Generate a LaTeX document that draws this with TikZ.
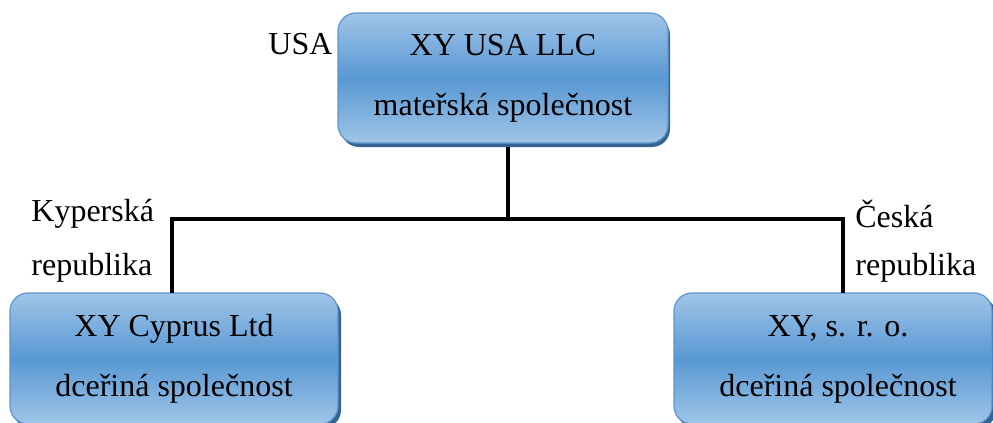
\documentclass[tikz,border=0pt]{standalone}
\usepackage{fontspec}
\setmainfont{Liberation Serif}
\definecolor{boxlight}{RGB}{160,197,232}
\definecolor{boxmid}{RGB}{88,152,211}
\definecolor{boxedge}{RGB}{92,150,205}
\definecolor{boxshadow}{RGB}{52,98,145}
\tikzset{
  company/.style={rounded corners=9pt, draw=boxedge, line width=0.6pt,
    top color=boxlight, bottom color=boxlight, middle color=boxmid},
  shadowbox/.style={rounded corners=9pt, fill=boxshadow},
  boxtext/.style={font=\fontsize{16}{20}\selectfont, align=center, inner sep=0pt},
  country/.style={font=\fontsize{16}{20}\selectfont, align=left, inner sep=0pt, anchor=west},
  link/.style={line width=2.4pt, line join=miter}
}
\begin{document}
\begin{tikzpicture}[x=0.5pt, y=-0.5pt]
\useasboundingbox (0,0) rectangle (993,423);
\begin{scope}
\clip (0,0) rectangle (993,423);
% parent company
\fill[shadowbox] (341,17) rectangle (670,147);
\path[company] (338,13) rectangle (668,143);
\node[boxtext] (parent) at (503,78) {XY USA LLC\\[10pt]mateřská společnost};
\coordinate (pbot) at (508,147);
% subsidiaries
\fill[shadowbox] (13,297) rectangle (341,428);
\path[company] (10,293) rectangle (338,424);
\node[boxtext] (cyprus) at (174,359) {XY Cyprus Ltd\\[10pt]dceřiná společnost};
\fill[shadowbox] (677,297) rectangle (996,428);
\path[company] (674,293) rectangle (992,424);
\node[boxtext] (cz) at (838,359) {XY, s. r. o.\\[10pt]dceřiná společnost};
\coordinate (ctop) at (172,293);
\coordinate (ztop) at (843,293);
\end{scope}
% org chart connectors
\coordinate (mid) at (508,219);
\draw[link] (pbot) -- (mid);
\draw[link] (ctop) -- (172,219) -- (843,219) -- (ztop);
% country labels
\node[country] (usa) at (268,44) {USA};
\node[country] (cyl1) at (31,214) {Kyperská};
\node[country] (cyl2) at (31,268) {republika};
\node[country] (czl1) at (855,214) {Česká};
\node[country] (czl2) at (855,268) {republika};
\end{tikzpicture}
\end{document}
